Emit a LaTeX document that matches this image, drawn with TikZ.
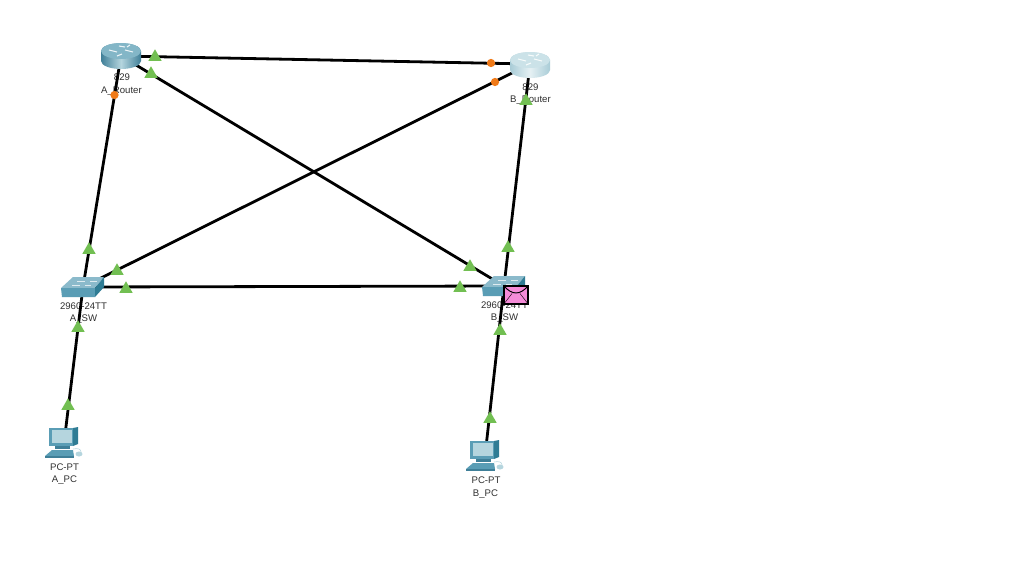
\documentclass[tikz,border=0pt]{standalone}
\usepackage{fontspec}
\setmainfont{Liberation Sans}
\usetikzlibrary{shapes.geometric}
\definecolor{linkgreen}{HTML}{72BF52}
\definecolor{linkorange}{HTML}{F07A18}
\definecolor{txt}{HTML}{303030}
\definecolor{tealdark}{HTML}{3F7F98}
\definecolor{tealmid}{HTML}{5A9DB5}
\definecolor{teallight}{HTML}{B5D5DE}
\definecolor{tealside}{HTML}{2F7C94}
\definecolor{envpink}{HTML}{F58BD8}
\tikzset{
  x=0.75pt,y=-0.75pt,
  lbl/.style={font=\fontsize{7.2pt}{8pt}\selectfont,text=txt,inner sep=0pt,anchor=center},
  dev/.style={inner sep=0pt,minimum size=1pt},
  link/.style={draw=black,line width=2.1pt},
  up/.style={regular polygon,regular polygon sides=3,fill=linkgreen,draw=none,inner sep=0pt,minimum size=11.6pt},
  down/.style={circle,fill=linkorange,draw=none,inner sep=0pt,minimum size=6.2pt},
  pics/router/.style n args={3}{code={
    \shade[left color=#1,right color=#1,middle color=#2]
      (-20,-5) -- (-20,5) arc[start angle=180,end angle=0,x radius=20,y radius=8] -- (20,-5)
      arc[start angle=0,end angle=-180,x radius=20,y radius=8] -- cycle;
    \fill[#3] (0,-5) ellipse[x radius=20,y radius=8];
    \draw[white!85!#3,line width=.8pt] (-12,-6) -- (-4,-4) (12,-4) -- (4,-6) (-2,-10) -- (4,-9) (-4,0) -- (1,-2) (6,-9) -- (9,-11);
  }},
  pics/swicon/.style={code={
    \fill[#1!70!white] (-10,-11) -- (21,-11) -- (12,0) -- (-22,0) -- cycle;
    \draw[white!80!#1,line width=.5pt] (-6,-7) -- (2,-7) (7,-7) -- (14,-7) (-11,-3) -- (-3,-3) (2,-3) -- (8,-3);
    \fill[tealmid] (-22,0) -- (12,0) -- (12,9) -- (-21,9) -- cycle;
    \fill[tealside] (12,0) -- (21,-11) -- (21,-1) -- (12,9) -- cycle;
  }},
  pics/pcicon/.style={code={
    \fill[tealside] (10,-15) -- (15,-16) -- (15,1) -- (10,3) -- cycle;
    \fill[tealmid] (-14,-15) -- (10,-15) -- (10,3) -- (-14,3) -- cycle;
    \fill[teallight] (-11,-13) rectangle (9,0);
    \fill[tealdark] (-8,3) -- (7,3) -- (7,6) -- (-8,6) -- cycle;
    \fill[tealmid] (-11,7) -- (10,7) -- (11,13) -- (-18,13) -- cycle;
    \fill[tealdark] (-18,13) -- (11,13) -- (11,15) -- (-18,15) -- cycle;
    \fill[teallight] (16,11) ellipse[x radius=3.5,y radius=2.5];
    \draw[teallight,line width=.4pt] (10,6) .. controls (15,5) and (18,6) .. (18,9);
  }},
}
\begin{document}
\begin{tikzpicture}
\useasboundingbox (0,0) rectangle (1024,576);
\fill[white] (0,0) rectangle (1024,576);
% labels
\node[lbl] (arm) at (122,77.5) {829};
\node[lbl] (arn) at (121.5,91) {A\_Router};
\node[lbl] (brm) at (530.5,87) {829};
\node[lbl] (brn) at (530.5,100) {B\_Router};
\node[lbl] (asm) at (83.5,306) {2960-24TT};
\node[lbl] (asn) at (83.5,319.5) {A\_SW};
\node[lbl] (bsm) at (504.5,305) {2960-24TT};
\node[lbl] (bsn) at (504.5,318.5) {B\_SW};
\node[lbl] (apm) at (64.5,467) {PC-PT};
\node[lbl] (apn) at (64.5,480.5) {A\_PC};
\node[lbl] (bpm) at (486,480) {PC-PT};
\node[lbl] (bpn) at (485.5,494) {B\_PC};
% devices
\node[dev] (ar) at (121,56) {};
\node[dev] (br) at (530,64) {};
\node[dev] (as) at (83,287) {};
\node[dev] (bs) at (504,286) {};
\node[dev] (ap) at (64,443) {};
\node[dev] (bp) at (485,456) {};
% connectors
\draw[link] (ar.center) -- (br.center);
\draw[link] (ar.center) -- (as.center);
\draw[link] (ar.center) -- (bs.center);
\draw[link] (br.center) -- (as.center);
\draw[link] (br.center) -- (bs.center);
\draw[link] (as.center) -- (bs.center);
\draw[link] (as.center) -- (ap.center);
\draw[link] (bs.center) -- (bp.center);
% icons
\pic at (ar) {router={tealdark}{teallight}{tealmid!75!white}};
\pic at ([yshift=-0.75pt]br) {router={teallight!90!tealdark}{teallight!35!white}{teallight!70!white}};
\pic at ([yshift=-0.75pt]as) {swicon=tealmid};
\pic at ([yshift=-0.75pt]bs) {swicon=tealmid};
\pic at ([xshift=-0.75pt]ap) {pcicon};
\pic at ([xshift=-0.75pt]bp) {pcicon};
% status markers
\node[up] (t1) at (155,57) {};
\node[up] (t2) at (151,74) {};
\node[up] (t3) at (89,250) {};
\node[up] (t4) at (117,271) {};
\node[up] (t5) at (126,289) {};
\node[up] (t6) at (460,288) {};
\node[up] (t7) at (470,267) {};
\node[up] (t8) at (508,248) {};
\node[up] (t9) at (78,328) {};
\node[up] (t10) at (68,406) {};
\node[up] (t11) at (500,331) {};
\node[up] (t12) at (490,419) {};
\node[up] (t13) at (526,101) {};
\node[down] (o1) at (114.5,95) {};
\node[down] (o2) at (491,63) {};
\node[down] (o3) at (495,82) {};
% envelope
\node[draw=black,line width=1.3pt,fill=envpink,minimum width=17.5pt,minimum height=13pt,inner sep=0pt] (env) at (516,295) {};
\draw[black,line width=.7pt] (env.north west) .. controls ([xshift=-3pt,yshift=-7.5pt]env.north) and ([xshift=3pt,yshift=-7.5pt]env.north) .. (env.north east);
\draw[black,line width=.3pt] (env.south west) -- ([xshift=-3pt,yshift=-6pt]env.north) (env.south east) -- ([xshift=3pt,yshift=-6pt]env.north);
\end{tikzpicture}
\end{document}
